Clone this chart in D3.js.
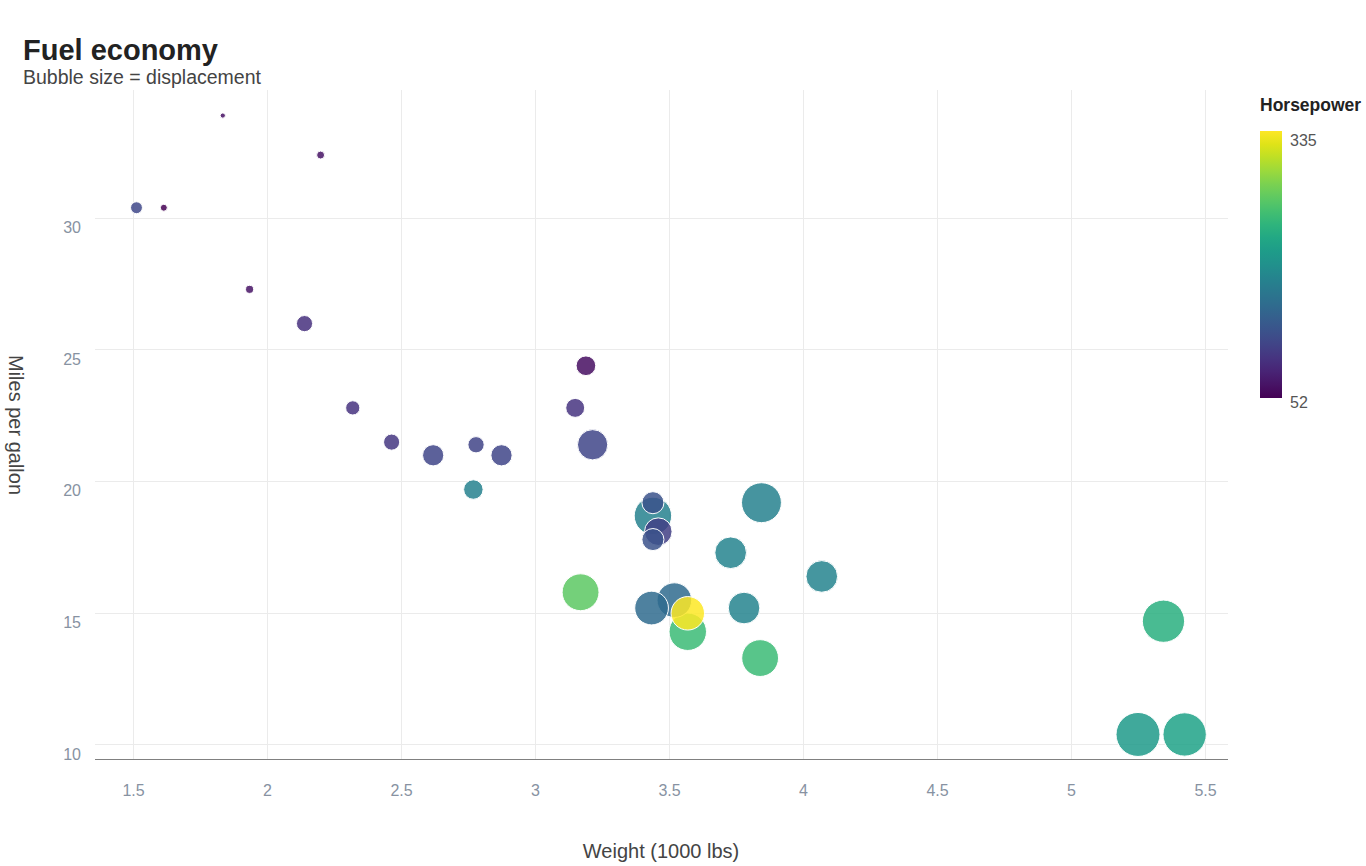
<!DOCTYPE html>
<html><head><meta charset="utf-8">
<script src="https://cdn.jsdelivr.net/npm/d3@7"></script>
<style>body{margin:0;background:#fff;} svg{display:block;font-family:"Liberation Sans",Arial,sans-serif;}</style>
</head><body>
<svg id="c" width="1366" height="866"></svg>
<script>
const cars = ["Mazda RX4","Mazda RX4 Wag","Datsun 710","Hornet 4 Drive","Hornet Sportabout","Valiant","Duster 360","Merc 240D","Merc 230","Merc 280","Merc 280C","Merc 450SE","Merc 450SL","Merc 450SLC","Cadillac Fleetwood","Lincoln Continental","Chrysler Imperial","Fiat 128","Honda Civic","Toyota Corolla","Toyota Corona","Dodge Challenger","AMC Javelin","Camaro Z28","Pontiac Firebird","Fiat X1-9","Porsche 914-2","Lotus Europa","Ford Pantera L","Ferrari Dino","Maserati Bora","Volvo 142E"];
const mpg = [21.0,21.0,22.8,21.4,18.7,18.1,14.3,24.4,22.8,19.2,17.8,16.4,17.3,15.2,10.4,10.4,14.7,32.4,30.4,33.9,21.5,15.5,15.2,13.3,19.2,27.3,26.0,30.4,15.8,19.7,15.0,21.4];
const wt = [2.620,2.875,2.320,3.215,3.440,3.460,3.570,3.190,3.150,3.440,3.440,4.070,3.730,3.780,5.250,5.424,5.345,2.200,1.615,1.835,2.465,3.520,3.435,3.840,3.845,1.935,2.140,1.513,3.170,2.770,3.570,2.780];
const hp = [110,110,93,110,175,105,245,62,95,123,123,180,180,180,205,215,230,66,52,65,97,150,150,245,175,66,91,113,264,175,335,109];
const disp = [160,160,108,258,360,225,360,146.7,140.8,167.6,167.6,275.8,275.8,275.8,472,460,440,78.7,75.7,71.1,120.1,318,304,350,400,79,120.3,95.1,351,145,301,121];
const xTicks = [1.5,2,2.5,3,3.5,4,4.5,5,5.5];
const yTicks = [10,15,20,25,30];
const hpTickLabels = [52,335];

const svg = d3.select("#c");
const L=95, R=1228, T=90, B=759;
const x = d3.scaleLinear().domain([1.3582,5.5858]).range([L,R]);
const y = d3.scaleLinear().domain([9.468,34.87]).range([B,T]);
const r = d3.scaleRadial().domain(d3.extent(disp)).range([2.6,22]);
const color = d3.scaleSequential(d3.interpolateViridis).domain(d3.extent(hp));

// title
svg.append("text").attr("x",23).attr("y",60).attr("font-size",29).attr("font-weight","bold").attr("fill","#222").text("Fuel economy");
svg.append("text").attr("x",23).attr("y",84).attr("font-size",19.5).attr("fill","#444").text("Bubble size = displacement");

// grid
const g = svg.append("g").attr("shape-rendering","crispEdges");
g.selectAll("line.vx").data(xTicks).join("line")
  .attr("x1",d=>x(d)).attr("x2",d=>x(d)).attr("y1",T).attr("y2",B)
  .attr("stroke","#ebebeb").attr("stroke-width",1);
g.selectAll("line.hy").data(yTicks).join("line")
  .attr("x1",L).attr("x2",R).attr("y1",d=>y(d)).attr("y2",d=>y(d))
  .attr("stroke","#ebebeb").attr("stroke-width",1);

// axes
const xAxis = svg.append("g").attr("transform",`translate(0,${B})`)
  .call(d3.axisBottom(x).tickValues(xTicks).tickSize(0).tickPadding(26).tickFormat(d3.format("")));
xAxis.select(".domain").attr("stroke","#808080").attr("shape-rendering","crispEdges").attr("d",`M${L},0.5H${R}`);
xAxis.selectAll("text").attr("fill","#8792a2").attr("font-size",16).attr("font-family","Liberation Sans, Arial, sans-serif");

const yAxis = svg.append("g").attr("transform",`translate(${L},9)`)
  .call(d3.axisLeft(y).tickValues(yTicks).tickSize(0).tickPadding(14).tickFormat(d3.format("")));
yAxis.select(".domain").remove();
yAxis.selectAll("text").attr("fill","#8792a2").attr("font-size",16).attr("font-family","Liberation Sans, Arial, sans-serif");

svg.append("text").attr("x",661).attr("y",858).attr("text-anchor","middle").attr("font-size",20).attr("fill","#444").text("Weight (1000 lbs)");
svg.append("text").attr("transform","translate(9,425) rotate(90)").attr("text-anchor","middle").attr("font-size",20).attr("fill","#444").text("Miles per gallon");

// bubbles
const idx = d3.range(cars.length);
svg.append("g").selectAll("circle").data(idx).join("circle")
  .attr("cx",i=>x(wt[i])).attr("cy",i=>y(mpg[i])).attr("r",i=>r(disp[i]))
  .attr("fill",i=>color(hp[i])).attr("fill-opacity",0.85)
  .attr("stroke","#fff").attr("stroke-width",1);

// legend
svg.append("text").attr("x",1260).attr("y",111).attr("font-size",17.5).attr("font-weight","bold").attr("fill","#222").text("Horsepower");
const defs = svg.append("defs");
const grad = defs.append("linearGradient").attr("id","vg").attr("x1",0).attr("y1",1).attr("x2",0).attr("y2",0);
d3.range(0,1.0001,0.05).forEach(t=>grad.append("stop").attr("offset",t).attr("stop-color",d3.interpolateViridis(t)));
const cy = d3.scaleLinear().domain(d3.extent(hp)).range([398,131]);
svg.append("rect").attr("x",1260).attr("y",cy(335)).attr("width",22).attr("height",cy(52)-cy(335)).attr("fill","url(#vg)");
svg.selectAll("text.lg").data(hpTickLabels).join("text").attr("class","lg")
  .attr("x",1290).attr("y",d=>cy(d)).attr("dy",d=>d===335?"0.95em":"0.65em")
  .attr("font-size",16).attr("fill","#555").text(d=>d);
</script>
</body></html>
